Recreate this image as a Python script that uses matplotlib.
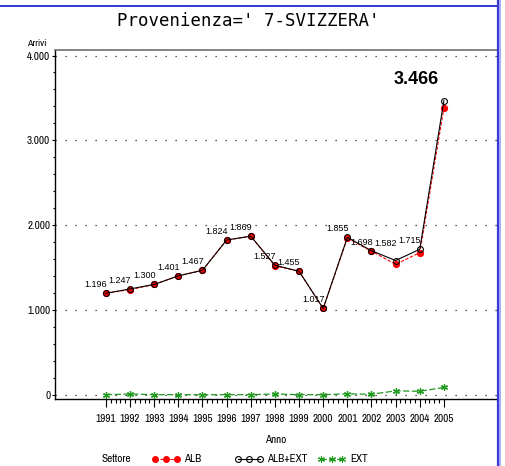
import matplotlib
matplotlib.use("Agg")
import matplotlib.pyplot as plt
from matplotlib import font_manager
from matplotlib.lines import Line2D
from matplotlib.ticker import FixedLocator

# data
anni = [1991, 1992, 1993, 1994, 1995, 1996, 1997, 1998, 1999, 2000,
        2001, 2002, 2003, 2004, 2005]
alb_ext = [1196, 1247, 1300, 1401, 1467, 1824, 1869, 1527, 1455, 1017,
           1855, 1698, 1582, 1715, 3466]
ext = [0, 8, 0, 0, 0, 0, 0, 8, 0, 0, 10, 5, 45, 40, 85]
alb = [t - e for t, e in zip(alb_ext, ext)]
y_ticks = [0, 1000, 2000, 3000, 4000]
y_labels = ['0', '1.000', '2.000', '3.000', '4.000']

W, H = 505, 466
fl = font_manager.fontManager.ttflist
names = {f.name for f in fl}
cond = sorted({f.name for f in fl if 'Narrow' in f.name or 'Condensed' in f.name})
has_cond_dejavu = any(f.name == 'DejaVu Sans' and 'condensed' in str(f.stretch) for f in fl)
if 'Liberation Sans Narrow' in names:
    narrow, stretch = 'Liberation Sans Narrow', 'normal'
elif cond:
    narrow, stretch = cond[0], 'normal'
elif has_cond_dejavu:
    narrow, stretch = 'DejaVu Sans', 'condensed'
else:
    narrow, stretch = 'DejaVu Sans', 'normal'
sans = 'Liberation Sans' if 'Liberation Sans' in names else 'DejaVu Sans'
nf = dict(family=narrow, stretch=stretch)

def px(x, y):
    return x / W, 1 - y / H

red = '#ff0000'
green = '#1f9a1f'

fig = plt.figure(figsize=(W / 100, H / 100), dpi=100)
ax = fig.add_axes([55 / W, 1 - 399 / H, (497 - 55) / W, (399 - 50) / H])

ax.plot(anni, alb, color=red, lw=0.8, ls=(0, (3, 1.5)), marker='o', ms=4.2,
        mfc=red, mec=red, zorder=3)
ax.plot(anni, alb_ext, color='black', lw=0.8, ls='-', marker='o', ms=4.2,
        mfc='none', mec='black', mew=0.8, zorder=4)
ax.plot(anni, ext, color=green, lw=0.9, ls=(0, (5, 2)), marker=(6, 2, 0), ms=5,
        mec=green, mew=0.9, zorder=3)

# value labels (total)
for i, (a, v) in enumerate(zip(anni, alb_ext)):
    lab = f"{v:,}".replace(',', '.')
    if i == len(anni) - 1:
        ax.annotate(lab, (a, v), xytext=(-20, 15), textcoords='offset points',
                    ha='center', va='center', fontsize=13, fontweight='bold',
                    family=sans, zorder=6)
    else:
        dy = 12.2 if a == 2003 else 6.1
        ax.annotate(lab, (a, v), xytext=(-7.2, dy), textcoords='offset points',
                    ha='center', va='center', fontsize=6.5, family=sans, zorder=6)

ax.set_xlim(1988.89, 2007.2)
ax.set_ylim(-51, 4065)

ax.xaxis.set_major_locator(FixedLocator(anni))
ax.xaxis.set_minor_locator(FixedLocator([a + k * 0.2 for a in anni[:-1] for k in range(1, 5)]))
ax.yaxis.set_major_locator(FixedLocator(y_ticks))
ax.yaxis.set_minor_locator(FixedLocator([t + k * 200 for t in y_ticks[:-1] for k in range(1, 5)]))
ax.set_xticklabels([str(a) for a in anni], fontsize=8, **nf)
ax.set_yticklabels(y_labels, fontsize=8, **nf)
ax.tick_params(axis='x', which='major', length=6, width=0.8, pad=5, direction='out')
ax.tick_params(axis='x', which='minor', length=3, width=0.8, direction='out')
ax.tick_params(axis='y', which='major', length=2.5, width=0.8, pad=1, direction='out')
ax.tick_params(axis='y', which='minor', length=1.5, width=0.8, direction='out')

for y in y_ticks:
    ax.axhline(y, color='#222222', lw=0.9, ls=(0, (1, 7)), zorder=1)

ax.spines['right'].set_visible(False)
ax.spines['top'].set_color('#707070')
ax.spines['top'].set_linewidth(1.2)
ax.spines['left'].set_linewidth(1.0)
ax.spines['bottom'].set_linewidth(1.0)

# titles and axis names
fig.text(*px(248, 21), "Provenienza=' 7-SVIZZERA'", ha='center', va='center',
         family='DejaVu Sans Mono', fontsize=12.5)
fig.text(*px(37, 44), "Arrivi", ha='center', va='center', fontsize=7, **nf)
fig.text(*px(276, 440), "Anno", ha='center', va='center', fontsize=8, **nf)

# legend row
ly = 458.7
fig.text(*px(102, ly), "Settore", ha='left', va='center', fontsize=8, **nf)
entries = [
    ([155, 166, 177], 184, 'ALB', dict(color=red, ls=(0, (3, 1.5)), marker='o', mfc=red, mec=red, ms=4.2)),
    ([238, 249, 260], 267, 'ALB+EXT', dict(color='black', ls='-', marker='o', mfc='none', mec='black', ms=4.2)),
    ([321, 332, 342], 350, 'EXT', dict(color=green, ls=(0, (5, 2)), marker=(6, 2, 0), mec=green, ms=5)),
]
for xs, tx, name, st in entries:
    xf = [x / W for x in xs]
    yf = [1 - ly / H] * 3
    fig.add_artist(Line2D(xf, yf, transform=fig.transFigure, lw=0.8, mew=0.8, **st))
    fig.text(*px(tx, ly), name, ha='left', va='center', fontsize=8, **nf)

# page border
fig.add_artist(Line2D([0, 497 / W], [1 - 6 / H] * 2, transform=fig.transFigure,
                      color='#3535d5', lw=1.4))
fig.add_artist(Line2D([497.5 / W] * 2, [0, 1], transform=fig.transFigure,
                      color='#3a3ad0', lw=1.6))
fig.add_artist(Line2D([499.5 / W] * 2, [0, 1], transform=fig.transFigure,
                      color='#9a9aff', lw=1.2))

fig.savefig('out.png', dpi=100)
